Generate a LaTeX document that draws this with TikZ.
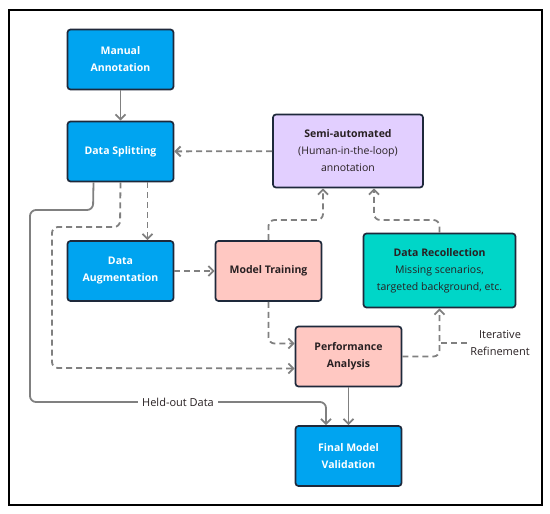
\documentclass[tikz,border=0pt]{standalone}
\usepackage{fontspec}
\setmainfont{Open Sans}
\usepackage{xcolor}
\usetikzlibrary{arrows.meta,positioning}
\definecolor{boxblue}{RGB}{0,164,240}
\definecolor{boxpink}{RGB}{255,200,194}
\definecolor{boxlilac}{RGB}{226,207,255}
\definecolor{boxteal}{RGB}{0,214,200}
\definecolor{boxedge}{RGB}{30,41,59}
\definecolor{linegray}{RGB}{128,128,128}
\definecolor{inkdark}{RGB}{40,32,34}

\begin{document}
\begin{tikzpicture}[
    x=1pt,y=-1pt,
    stage/.style={rectangle,rounded corners=3pt,draw=boxedge,line width=1.7pt,
      minimum width=106pt,minimum height=60pt,align=center,
      font=\fontsize{10.5}{17}\selectfont},
    blue/.style={stage,fill=boxblue,text=white,font=\fontsize{10.5}{17}\selectfont\bfseries},
    pink/.style={stage,fill=boxpink,text=inkdark,font=\fontsize{10.5}{17}\selectfont\bfseries},
    lilac/.style={stage,fill=boxlilac,text=inkdark,minimum width=150pt,minimum height=73pt},
    teal/.style={stage,fill=boxteal,text=inkdark,minimum width=152pt,minimum height=74pt},
    sline/.style={-{Straight Barb[length=5pt,width=10pt]},draw=linegray,line width=1.8pt,rounded corners=6pt},
    dline/.style={sline,dash pattern=on 6pt off 4pt},
    note/.style={text=inkdark,align=center,font=\fontsize{11}{17}\selectfont}
  ]
    \useasboundingbox (0,0) rectangle (550,514);
    \draw[line width=2.2pt] (9,10) rectangle (542,505);

    % stages
    \node[blue] (manual) at (120.5,59.5) {Manual\\Annotation};
    \node[blue] (split) at (120.5,151.5) {Data Splitting};
    \node[blue] (aug) at (120.5,271) {Data\\Augmentation};
    \node[pink] (train) at (268.5,271) {Model Training};
    \node[lilac] (semi) at (348,151) {\textbf{Semi-automated}\\(Human-in-the-loop)\\annotation};
    \node[teal] (recol) at (439.5,270.5) {\textbf{Data Recollection}\\Missing scenarios,\\targeted background, etc.};
    \node[pink] (perf) at (348.5,356.5) {Performance\\Analysis};
    \node[blue] (final) at (348.5,456) {Final Model\\Validation};
    \node[note] (iter) at (500,343) {Iterative\\Refinement};

    % connectors
    \draw[sline] (manual) -- (split);
    \draw[dline] (semi) -- (split);
    \draw[dline] ([xshift=27pt]split.south) -- ([xshift=27pt]aug.north);
    \draw[dline] (split.south) -- (120,227) -- (52,227) -- (52,368) -- ([yshift=-12pt]perf.west);
    \draw[sline] ([xshift=-27pt]split.south) -- (93,210) -- (30,210) -- (30,402)
      -- node[fill=white,text=inkdark,font=\fontsize{11}{12}\selectfont,inner xsep=4pt] {Held-out Data} (326,402)
      -- ([xshift=-22.5pt]final.north);
    \draw[dline] (aug) -- (train);
    \draw[dline] (train.south) |- ([yshift=13pt]perf.west);
    \draw[dline] (train.north) -- (268.5,220) -| ([xshift=-25pt]semi.south);
    \draw[dline] (recol.north) -- (439.5,220) -| ([xshift=26pt]semi.south);
    \draw[dline] (perf.east) -| (recol.south);
    \draw[dline,-] (iter.west) -- (439.5,343);
    \draw[sline] (perf) -- (final);
  \end{tikzpicture}
\end{document}
